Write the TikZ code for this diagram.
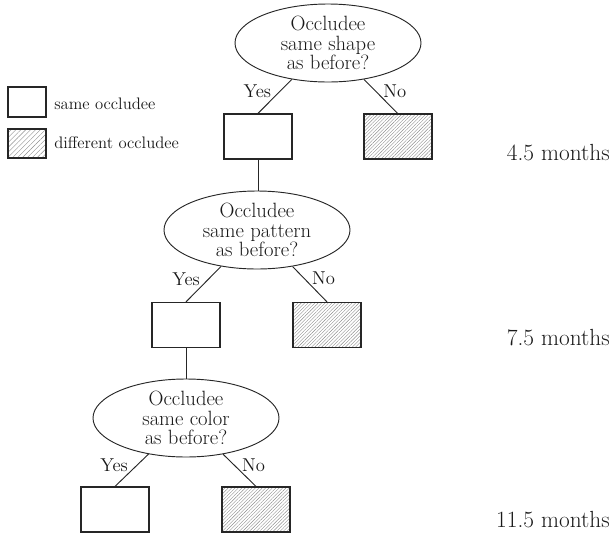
\documentclass[tikz,border=0pt]{standalone}
\usepackage{tikz}
\usetikzlibrary{shapes.geometric}
\usetikzlibrary{patterns.meta}

\tikzset{
  question/.style={ellipse,draw=black!85,line width=0.7pt,align=center,
    inner xsep=0pt,inner ysep=0pt,minimum width=139.5pt,minimum height=58.5pt,
    font=\fontsize{15.5}{14.4}\selectfont,text=black!90},
  samebox/.style={draw=black!85,line width=0.9pt,minimum width=51pt,minimum height=33.75pt,inner sep=0pt},
  diffbox/.style={samebox,pattern={Lines[angle=45,distance=1.8pt,line width=0.3pt]},pattern color=black!45},
  answer/.style={font=\fontsize{14}{16}\selectfont,text=black!90},
  branch/.style={draw=black!85,line width=0.7pt},
  agelabel/.style={anchor=base east,inner sep=0pt,font=\fontsize{17.5}{19}\selectfont,text=black!90},
  keytext/.style={anchor=base west,inner sep=0pt,font=\fontsize{12.5}{14}\selectfont,text=black!90}
}

\begin{document}
\begin{tikzpicture}[x=0.75pt,y=-0.75pt]
\useasboundingbox (0,0) rectangle (612,533);

\node[samebox,minimum width=28.5pt,minimum height=22.5pt] (keysame) at (27,102) {};
\node[samebox,minimum width=28.5pt,minimum height=21.75pt,pattern={Lines[angle=45,distance=2.6pt,line width=0.3pt]},pattern color=black!45] (keydiff) at (27,143.5) {};
\node[keytext] (keysametext) at (54,109) {same occludee};
\node[keytext] (keydifftext) at (54,148) {different occludee};

\node[question] (shape) at (328,43) {Occludee\\same shape\\as before?};
\node[samebox] (shapeyes) at (258,136.5) {};
\node[diffbox] (shapeno) at (398,136.5) {};
\draw[branch] (shape) -- node[answer,pos=0.35,left=3pt] {Yes} (shapeyes.north);
\draw[branch] (shape) -- node[answer,pos=0.33,right=2.5pt] {No} (shapeno.north);

\node[question] (pattern) at (257,230) {Occludee\\same pattern\\as before?};
\draw[branch] (shapeyes.south) -- (shapeyes.south |- pattern.north);
\node[samebox] (patternyes) at (186,325) {};
\node[diffbox] (patternno) at (327,325) {};
\draw[branch] (pattern) -- node[answer,pos=0.35,left=3pt] {Yes} (patternyes.north);
\draw[branch] (pattern) -- node[answer,pos=0.33,right=2.5pt] {No} (patternno.north);

\node[question] (color) at (186,418) {Occludee\\same color\\as before?};
\draw[branch] (patternyes.south) -- (color.north);
\node[samebox] (coloryes) at (115,509.5) {};
\node[diffbox] (colorno) at (256,509.5) {};
\draw[branch] (color) -- node[answer,pos=0.35,left=3pt] {Yes} (coloryes.north);
\draw[branch] (color) -- node[answer,pos=0.33,right=2.5pt] {No} (colorno.north);

\node[agelabel] (age1) at (610,160) {4.5 months};
\node[agelabel] (age2) at (610,345) {7.5 months};
\node[agelabel] (age3) at (610,527) {11.5 months};

\end{tikzpicture}
\end{document}
